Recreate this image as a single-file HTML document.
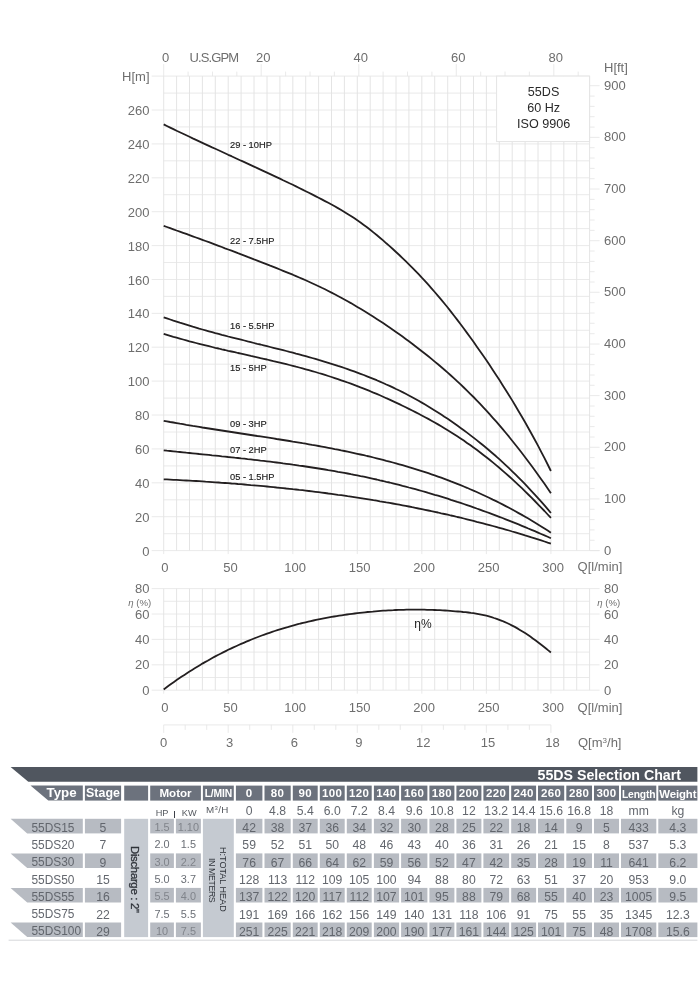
<!DOCTYPE html>
<html lang="en"><head><meta charset="utf-8"><title>55DS Selection Chart</title>
<style>
html,body{margin:0;padding:0;background:#fff}
body{width:700px;height:987px;position:relative;overflow:hidden;font-family:"Liberation Sans",sans-serif}
svg.chart{position:absolute;left:0;top:0}
svg.tbg{position:absolute;left:0;top:760px}
.c{position:absolute;height:15.4px;line-height:15.4px;text-align:center;white-space:nowrap;font-size:12px}
.h{color:#fff;font-weight:bold;font-size:11.5px;letter-spacing:0.35px}
.hb{font-size:11.6px;letter-spacing:0}
.ht{font-size:13.3px;text-align:left;letter-spacing:0}
.hst{font-size:12.4px;letter-spacing:0}
.hw{font-size:11.4px;letter-spacing:-0.1px}
.hs{font-size:10.3px;letter-spacing:-0.15px}
.d{color:#63676e;font-size:12.2px;height:14.6px;line-height:15.2px}
.d.sh{color:#62666d}
.d.m{color:#6a6e75;font-size:10.9px}
.d.m.sh{color:#80848b}
.sm{font-size:9.2px;color:#55595f}
.sm2{font-size:9.8px;color:#55595f;letter-spacing:0.3px}
.sup{font-size:6px;vertical-align:3px}
.bar{position:absolute;left:174.2px;top:811px;width:1px;height:7px;background:#3c4048}
.title{position:absolute;left:520px;width:161px;top:767.5px;height:14.9px;line-height:15.4px;text-align:right;color:#fff;font-weight:bold;font-size:14.2px;white-space:nowrap}
.vert{position:absolute;writing-mode:vertical-rl;color:#3e424a;white-space:nowrap;text-align:center}
.v1{left:122.3px;width:23.9px;top:820.2px;height:118.3px;font-size:11.4px;letter-spacing:-0.32px;line-height:22.5px;color:#2f333a;-webkit-text-stroke:0.3px #2f333a}
.v2{left:216.5px;width:11px;top:820.3px;height:118.3px;font-size:9.05px;line-height:11px;color:#2f333a}
.v3{left:205.9px;width:11px;top:821.3px;height:118.3px;font-size:8.8px;line-height:11px;color:#2f333a;letter-spacing:-0.4px}
</style></head><body>
<svg class="chart" width="700" height="760" viewBox="0 0 700 760">
<g stroke="#e4e4e4" stroke-width="0.8" fill="none">
<line x1="163.7" y1="76.1" x2="163.7" y2="550.6" stroke="#dddddd"/>
<line x1="176.6" y1="76.1" x2="176.6" y2="550.6" stroke="#dddddd"/>
<line x1="189.5" y1="76.1" x2="189.5" y2="550.6" stroke="#dddddd"/>
<line x1="202.4" y1="76.1" x2="202.4" y2="550.6" stroke="#dddddd"/>
<line x1="215.3" y1="76.1" x2="215.3" y2="550.6" stroke="#dddddd"/>
<line x1="228.2" y1="76.1" x2="228.2" y2="550.6" stroke="#dddddd"/>
<line x1="241.1" y1="76.1" x2="241.1" y2="550.6" stroke="#dddddd"/>
<line x1="254.0" y1="76.1" x2="254.0" y2="550.6" stroke="#dddddd"/>
<line x1="267.0" y1="76.1" x2="267.0" y2="550.6" stroke="#dddddd"/>
<line x1="279.9" y1="76.1" x2="279.9" y2="550.6" stroke="#dddddd"/>
<line x1="292.8" y1="76.1" x2="292.8" y2="550.6" stroke="#dddddd"/>
<line x1="305.7" y1="76.1" x2="305.7" y2="550.6" stroke="#dddddd"/>
<line x1="318.6" y1="76.1" x2="318.6" y2="550.6" stroke="#dddddd"/>
<line x1="331.5" y1="76.1" x2="331.5" y2="550.6" stroke="#dddddd"/>
<line x1="344.4" y1="76.1" x2="344.4" y2="550.6" stroke="#dddddd"/>
<line x1="357.3" y1="76.1" x2="357.3" y2="550.6" stroke="#dddddd"/>
<line x1="370.2" y1="76.1" x2="370.2" y2="550.6" stroke="#dddddd"/>
<line x1="383.1" y1="76.1" x2="383.1" y2="550.6" stroke="#dddddd"/>
<line x1="396.0" y1="76.1" x2="396.0" y2="550.6" stroke="#dddddd"/>
<line x1="408.9" y1="76.1" x2="408.9" y2="550.6" stroke="#dddddd"/>
<line x1="421.8" y1="76.1" x2="421.8" y2="550.6" stroke="#dddddd"/>
<line x1="434.7" y1="76.1" x2="434.7" y2="550.6" stroke="#dddddd"/>
<line x1="447.7" y1="76.1" x2="447.7" y2="550.6" stroke="#dddddd"/>
<line x1="460.6" y1="76.1" x2="460.6" y2="550.6" stroke="#dddddd"/>
<line x1="473.5" y1="76.1" x2="473.5" y2="550.6" stroke="#dddddd"/>
<line x1="486.4" y1="76.1" x2="486.4" y2="550.6" stroke="#dddddd"/>
<line x1="499.3" y1="76.1" x2="499.3" y2="550.6" stroke="#dddddd"/>
<line x1="512.2" y1="76.1" x2="512.2" y2="550.6" stroke="#dddddd"/>
<line x1="525.1" y1="76.1" x2="525.1" y2="550.6" stroke="#dddddd"/>
<line x1="538.0" y1="76.1" x2="538.0" y2="550.6" stroke="#dddddd"/>
<line x1="550.9" y1="76.1" x2="550.9" y2="550.6" stroke="#dddddd"/>
<line x1="563.8" y1="76.1" x2="563.8" y2="550.6" stroke="#dddddd"/>
<line x1="576.7" y1="76.1" x2="576.7" y2="550.6" stroke="#dddddd"/>
<line x1="589.6" y1="76.1" x2="589.6" y2="550.6" stroke="#dddddd"/>
<line x1="151.7" y1="550.6" x2="589.6" y2="550.6"/>
<line x1="163.7" y1="533.7" x2="589.6" y2="533.7"/>
<line x1="151.7" y1="516.7" x2="589.6" y2="516.7"/>
<line x1="163.7" y1="499.8" x2="589.6" y2="499.8"/>
<line x1="151.7" y1="482.8" x2="589.6" y2="482.8"/>
<line x1="163.7" y1="465.9" x2="589.6" y2="465.9"/>
<line x1="151.7" y1="448.9" x2="589.6" y2="448.9"/>
<line x1="163.7" y1="432.0" x2="589.6" y2="432.0"/>
<line x1="151.7" y1="415.0" x2="589.6" y2="415.0"/>
<line x1="163.7" y1="398.1" x2="589.6" y2="398.1"/>
<line x1="151.7" y1="381.1" x2="589.6" y2="381.1"/>
<line x1="163.7" y1="364.2" x2="589.6" y2="364.2"/>
<line x1="151.7" y1="347.2" x2="589.6" y2="347.2"/>
<line x1="163.7" y1="330.3" x2="589.6" y2="330.3"/>
<line x1="151.7" y1="313.4" x2="589.6" y2="313.4"/>
<line x1="163.7" y1="296.4" x2="589.6" y2="296.4"/>
<line x1="151.7" y1="279.5" x2="589.6" y2="279.5"/>
<line x1="163.7" y1="262.5" x2="589.6" y2="262.5"/>
<line x1="151.7" y1="245.6" x2="589.6" y2="245.6"/>
<line x1="163.7" y1="228.6" x2="589.6" y2="228.6"/>
<line x1="151.7" y1="211.7" x2="589.6" y2="211.7"/>
<line x1="163.7" y1="194.7" x2="589.6" y2="194.7"/>
<line x1="151.7" y1="177.8" x2="589.6" y2="177.8"/>
<line x1="163.7" y1="160.8" x2="589.6" y2="160.8"/>
<line x1="151.7" y1="143.9" x2="589.6" y2="143.9"/>
<line x1="163.7" y1="126.9" x2="589.6" y2="126.9"/>
<line x1="151.7" y1="110.0" x2="589.6" y2="110.0"/>
<line x1="163.7" y1="93.1" x2="589.6" y2="93.1"/>
<line x1="151.7" y1="76.1" x2="589.6" y2="76.1"/>
<line x1="163.7" y1="64.1" x2="163.7" y2="76.1"/>
<line x1="188.1" y1="71.6" x2="188.1" y2="76.1"/>
<line x1="212.5" y1="71.6" x2="212.5" y2="76.1"/>
<line x1="236.8" y1="71.6" x2="236.8" y2="76.1"/>
<line x1="261.2" y1="64.1" x2="261.2" y2="76.1"/>
<line x1="285.6" y1="71.6" x2="285.6" y2="76.1"/>
<line x1="310.0" y1="71.6" x2="310.0" y2="76.1"/>
<line x1="334.4" y1="71.6" x2="334.4" y2="76.1"/>
<line x1="358.8" y1="64.1" x2="358.8" y2="76.1"/>
<line x1="383.1" y1="71.6" x2="383.1" y2="76.1"/>
<line x1="407.5" y1="71.6" x2="407.5" y2="76.1"/>
<line x1="431.9" y1="71.6" x2="431.9" y2="76.1"/>
<line x1="456.3" y1="64.1" x2="456.3" y2="76.1"/>
<line x1="480.7" y1="71.6" x2="480.7" y2="76.1"/>
<line x1="505.0" y1="71.6" x2="505.0" y2="76.1"/>
<line x1="529.4" y1="71.6" x2="529.4" y2="76.1"/>
<line x1="553.8" y1="64.1" x2="553.8" y2="76.1"/>
<line x1="578.2" y1="71.6" x2="578.2" y2="76.1"/>
<line x1="589.6" y1="550.6" x2="599.6" y2="550.6"/>
<line x1="589.6" y1="540.3" x2="594.6" y2="540.3"/>
<line x1="589.6" y1="529.9" x2="594.6" y2="529.9"/>
<line x1="589.6" y1="519.6" x2="594.6" y2="519.6"/>
<line x1="589.6" y1="509.3" x2="594.6" y2="509.3"/>
<line x1="589.6" y1="498.9" x2="599.6" y2="498.9"/>
<line x1="589.6" y1="488.6" x2="594.6" y2="488.6"/>
<line x1="589.6" y1="478.3" x2="594.6" y2="478.3"/>
<line x1="589.6" y1="468.0" x2="594.6" y2="468.0"/>
<line x1="589.6" y1="457.6" x2="594.6" y2="457.6"/>
<line x1="589.6" y1="447.3" x2="599.6" y2="447.3"/>
<line x1="589.6" y1="437.0" x2="594.6" y2="437.0"/>
<line x1="589.6" y1="426.6" x2="594.6" y2="426.6"/>
<line x1="589.6" y1="416.3" x2="594.6" y2="416.3"/>
<line x1="589.6" y1="406.0" x2="594.6" y2="406.0"/>
<line x1="589.6" y1="395.6" x2="599.6" y2="395.6"/>
<line x1="589.6" y1="385.3" x2="594.6" y2="385.3"/>
<line x1="589.6" y1="375.0" x2="594.6" y2="375.0"/>
<line x1="589.6" y1="364.7" x2="594.6" y2="364.7"/>
<line x1="589.6" y1="354.3" x2="594.6" y2="354.3"/>
<line x1="589.6" y1="344.0" x2="599.6" y2="344.0"/>
<line x1="589.6" y1="333.7" x2="594.6" y2="333.7"/>
<line x1="589.6" y1="323.3" x2="594.6" y2="323.3"/>
<line x1="589.6" y1="313.0" x2="594.6" y2="313.0"/>
<line x1="589.6" y1="302.7" x2="594.6" y2="302.7"/>
<line x1="589.6" y1="292.3" x2="599.6" y2="292.3"/>
<line x1="589.6" y1="282.0" x2="594.6" y2="282.0"/>
<line x1="589.6" y1="271.7" x2="594.6" y2="271.7"/>
<line x1="589.6" y1="261.4" x2="594.6" y2="261.4"/>
<line x1="589.6" y1="251.0" x2="594.6" y2="251.0"/>
<line x1="589.6" y1="240.7" x2="599.6" y2="240.7"/>
<line x1="589.6" y1="230.4" x2="594.6" y2="230.4"/>
<line x1="589.6" y1="220.0" x2="594.6" y2="220.0"/>
<line x1="589.6" y1="209.7" x2="594.6" y2="209.7"/>
<line x1="589.6" y1="199.4" x2="594.6" y2="199.4"/>
<line x1="589.6" y1="189.0" x2="599.6" y2="189.0"/>
<line x1="589.6" y1="178.7" x2="594.6" y2="178.7"/>
<line x1="589.6" y1="168.4" x2="594.6" y2="168.4"/>
<line x1="589.6" y1="158.0" x2="594.6" y2="158.0"/>
<line x1="589.6" y1="147.7" x2="594.6" y2="147.7"/>
<line x1="589.6" y1="137.4" x2="599.6" y2="137.4"/>
<line x1="589.6" y1="127.1" x2="594.6" y2="127.1"/>
<line x1="589.6" y1="116.7" x2="594.6" y2="116.7"/>
<line x1="589.6" y1="106.4" x2="594.6" y2="106.4"/>
<line x1="589.6" y1="96.1" x2="594.6" y2="96.1"/>
<line x1="589.6" y1="85.7" x2="599.6" y2="85.7"/>
<line x1="163.7" y1="550.6" x2="163.7" y2="554.1"/>
<line x1="228.2" y1="550.6" x2="228.2" y2="554.1"/>
<line x1="292.8" y1="550.6" x2="292.8" y2="554.1"/>
<line x1="357.3" y1="550.6" x2="357.3" y2="554.1"/>
<line x1="421.8" y1="550.6" x2="421.8" y2="554.1"/>
<line x1="486.4" y1="550.6" x2="486.4" y2="554.1"/>
<line x1="550.9" y1="550.6" x2="550.9" y2="554.1"/>
<line x1="589.6" y1="550.6" x2="599.6" y2="550.6"/>
</g>
<rect x="496.6" y="76.1" width="93.0" height="65.5" fill="#fff" stroke="#e4e4e4" stroke-width="1"/>
<g font-family="'Liberation Sans', sans-serif" font-size="12.6" fill="#2a2a2a" text-anchor="middle">
<text x="543.6" y="96">55DS</text><text x="543.6" y="112.2">60 Hz</text><text x="543.6" y="128.4">ISO 9906</text></g>
<g stroke="#e4e4e4" stroke-width="0.8" fill="none">
<line x1="163.7" y1="588.6" x2="163.7" y2="690.2" stroke="#dddddd"/>
<line x1="176.6" y1="588.6" x2="176.6" y2="690.2" stroke="#dddddd"/>
<line x1="189.5" y1="588.6" x2="189.5" y2="690.2" stroke="#dddddd"/>
<line x1="202.4" y1="588.6" x2="202.4" y2="690.2" stroke="#dddddd"/>
<line x1="215.3" y1="588.6" x2="215.3" y2="690.2" stroke="#dddddd"/>
<line x1="228.2" y1="588.6" x2="228.2" y2="690.2" stroke="#dddddd"/>
<line x1="241.1" y1="588.6" x2="241.1" y2="690.2" stroke="#dddddd"/>
<line x1="254.0" y1="588.6" x2="254.0" y2="690.2" stroke="#dddddd"/>
<line x1="267.0" y1="588.6" x2="267.0" y2="690.2" stroke="#dddddd"/>
<line x1="279.9" y1="588.6" x2="279.9" y2="690.2" stroke="#dddddd"/>
<line x1="292.8" y1="588.6" x2="292.8" y2="690.2" stroke="#dddddd"/>
<line x1="305.7" y1="588.6" x2="305.7" y2="690.2" stroke="#dddddd"/>
<line x1="318.6" y1="588.6" x2="318.6" y2="690.2" stroke="#dddddd"/>
<line x1="331.5" y1="588.6" x2="331.5" y2="690.2" stroke="#dddddd"/>
<line x1="344.4" y1="588.6" x2="344.4" y2="690.2" stroke="#dddddd"/>
<line x1="357.3" y1="588.6" x2="357.3" y2="690.2" stroke="#dddddd"/>
<line x1="370.2" y1="588.6" x2="370.2" y2="690.2" stroke="#dddddd"/>
<line x1="383.1" y1="588.6" x2="383.1" y2="690.2" stroke="#dddddd"/>
<line x1="396.0" y1="588.6" x2="396.0" y2="690.2" stroke="#dddddd"/>
<line x1="408.9" y1="588.6" x2="408.9" y2="690.2" stroke="#dddddd"/>
<line x1="421.8" y1="588.6" x2="421.8" y2="690.2" stroke="#dddddd"/>
<line x1="434.7" y1="588.6" x2="434.7" y2="690.2" stroke="#dddddd"/>
<line x1="447.7" y1="588.6" x2="447.7" y2="690.2" stroke="#dddddd"/>
<line x1="460.6" y1="588.6" x2="460.6" y2="690.2" stroke="#dddddd"/>
<line x1="473.5" y1="588.6" x2="473.5" y2="690.2" stroke="#dddddd"/>
<line x1="486.4" y1="588.6" x2="486.4" y2="690.2" stroke="#dddddd"/>
<line x1="499.3" y1="588.6" x2="499.3" y2="690.2" stroke="#dddddd"/>
<line x1="512.2" y1="588.6" x2="512.2" y2="690.2" stroke="#dddddd"/>
<line x1="525.1" y1="588.6" x2="525.1" y2="690.2" stroke="#dddddd"/>
<line x1="538.0" y1="588.6" x2="538.0" y2="690.2" stroke="#dddddd"/>
<line x1="550.9" y1="588.6" x2="550.9" y2="690.2" stroke="#dddddd"/>
<line x1="563.8" y1="588.6" x2="563.8" y2="690.2" stroke="#dddddd"/>
<line x1="576.7" y1="588.6" x2="576.7" y2="690.2" stroke="#dddddd"/>
<line x1="589.6" y1="588.6" x2="589.6" y2="690.2" stroke="#dddddd"/>
<line x1="151.7" y1="690.2" x2="599.6" y2="690.2"/>
<line x1="163.7" y1="677.5" x2="589.6" y2="677.5"/>
<line x1="151.7" y1="664.8" x2="599.6" y2="664.8"/>
<line x1="163.7" y1="652.1" x2="589.6" y2="652.1"/>
<line x1="151.7" y1="639.4" x2="599.6" y2="639.4"/>
<line x1="163.7" y1="626.7" x2="589.6" y2="626.7"/>
<line x1="151.7" y1="614.0" x2="599.6" y2="614.0"/>
<line x1="163.7" y1="601.3" x2="589.6" y2="601.3"/>
<line x1="151.7" y1="588.6" x2="599.6" y2="588.6"/>
<line x1="163.7" y1="690.2" x2="163.7" y2="693.7"/>
<line x1="228.2" y1="690.2" x2="228.2" y2="693.7"/>
<line x1="292.8" y1="690.2" x2="292.8" y2="693.7"/>
<line x1="357.3" y1="690.2" x2="357.3" y2="693.7"/>
<line x1="421.8" y1="690.2" x2="421.8" y2="693.7"/>
<line x1="486.4" y1="690.2" x2="486.4" y2="693.7"/>
<line x1="550.9" y1="690.2" x2="550.9" y2="693.7"/>
<line x1="163.7" y1="724.9" x2="550.9" y2="724.9"/>
<line x1="163.7" y1="724.9" x2="163.7" y2="732.9"/>
<line x1="185.2" y1="724.9" x2="185.2" y2="729.9"/>
<line x1="206.7" y1="724.9" x2="206.7" y2="729.9"/>
<line x1="228.2" y1="724.9" x2="228.2" y2="732.9"/>
<line x1="249.7" y1="724.9" x2="249.7" y2="729.9"/>
<line x1="271.3" y1="724.9" x2="271.3" y2="729.9"/>
<line x1="292.8" y1="724.9" x2="292.8" y2="732.9"/>
<line x1="314.3" y1="724.9" x2="314.3" y2="729.9"/>
<line x1="335.8" y1="724.9" x2="335.8" y2="729.9"/>
<line x1="357.3" y1="724.9" x2="357.3" y2="732.9"/>
<line x1="378.8" y1="724.9" x2="378.8" y2="729.9"/>
<line x1="400.3" y1="724.9" x2="400.3" y2="729.9"/>
<line x1="421.8" y1="724.9" x2="421.8" y2="732.9"/>
<line x1="443.4" y1="724.9" x2="443.4" y2="729.9"/>
<line x1="464.9" y1="724.9" x2="464.9" y2="729.9"/>
<line x1="486.4" y1="724.9" x2="486.4" y2="732.9"/>
<line x1="507.9" y1="724.9" x2="507.9" y2="729.9"/>
<line x1="529.4" y1="724.9" x2="529.4" y2="729.9"/>
<line x1="550.9" y1="724.9" x2="550.9" y2="732.9"/>
</g>
<g stroke="#231f20" stroke-width="1.8" fill="none" stroke-linecap="butt" stroke-linejoin="round">
<path d="M163.7,479.3 L166.9,479.4 L170.2,479.6 L173.4,479.8 L176.6,479.9 L179.8,480.1 L183.1,480.3 L186.3,480.5 L189.5,480.7 L192.7,480.9 L196.0,481.0 L199.2,481.2 L202.4,481.4 L205.6,481.7 L208.9,481.9 L212.1,482.1 L215.3,482.3 L218.6,482.5 L221.8,482.8 L225.0,483.0 L228.2,483.2 L231.5,483.5 L234.7,483.7 L237.9,484.0 L241.1,484.2 L244.4,484.5 L247.6,484.8 L250.8,485.1 L254.0,485.3 L257.3,485.6 L260.5,485.9 L263.7,486.2 L267.0,486.5 L270.2,486.8 L273.4,487.1 L276.6,487.5 L279.9,487.8 L283.1,488.1 L286.3,488.5 L289.5,488.8 L292.8,489.2 L296.0,489.5 L299.2,489.9 L302.5,490.2 L305.7,490.6 L308.9,491.0 L312.1,491.4 L315.4,491.8 L318.6,492.2 L321.8,492.6 L325.0,493.0 L328.3,493.5 L331.5,493.9 L334.7,494.3 L337.9,494.8 L341.2,495.2 L344.4,495.7 L347.6,496.2 L350.9,496.6 L354.1,497.1 L357.3,497.6 L360.5,498.1 L363.8,498.6 L367.0,499.1 L370.2,499.6 L373.4,500.2 L376.7,500.7 L379.9,501.3 L383.1,501.8 L386.3,502.4 L389.6,502.9 L392.8,503.5 L396.0,504.1 L399.3,504.7 L402.5,505.3 L405.7,505.9 L408.9,506.5 L412.2,507.2 L415.4,507.8 L418.6,508.5 L421.8,509.1 L425.1,509.8 L428.3,510.5 L431.5,511.2 L434.7,511.8 L438.0,512.5 L441.2,513.3 L444.4,514.0 L447.7,514.7 L450.9,515.5 L454.1,516.2 L457.3,517.0 L460.6,517.7 L463.8,518.5 L467.0,519.3 L470.2,520.1 L473.5,520.9 L476.7,521.8 L479.9,522.6 L483.1,523.4 L486.4,524.3 L489.6,525.1 L492.8,526.0 L496.1,526.9 L499.3,527.8 L502.5,528.7 L505.7,529.6 L509.0,530.5 L512.2,531.5 L515.4,532.4 L518.6,533.4 L521.9,534.4 L525.1,535.4 L528.3,536.3 L531.5,537.4 L534.8,538.4 L538.0,539.4 L541.2,540.4 L544.5,541.5 L547.7,542.6 L550.9,543.6"/>
<path d="M163.7,450.3 L166.9,450.7 L170.2,451.0 L173.4,451.3 L176.6,451.7 L179.8,452.0 L183.1,452.3 L186.3,452.7 L189.5,453.0 L192.7,453.3 L196.0,453.6 L199.2,454.0 L202.4,454.3 L205.6,454.6 L208.9,454.9 L212.1,455.3 L215.3,455.6 L218.6,455.9 L221.8,456.3 L225.0,456.6 L228.2,457.0 L231.5,457.3 L234.7,457.7 L237.9,458.0 L241.1,458.4 L244.4,458.7 L247.6,459.1 L250.8,459.4 L254.0,459.8 L257.3,460.2 L260.5,460.6 L263.7,460.9 L267.0,461.3 L270.2,461.7 L273.4,462.1 L276.6,462.5 L279.9,462.9 L283.1,463.4 L286.3,463.8 L289.5,464.2 L292.8,464.7 L296.0,465.1 L299.2,465.6 L302.5,466.0 L305.7,466.5 L308.9,467.0 L312.1,467.5 L315.4,468.0 L318.6,468.5 L321.8,469.0 L325.0,469.5 L328.3,470.1 L331.5,470.6 L334.7,471.2 L337.9,471.8 L341.2,472.3 L344.4,472.9 L347.6,473.5 L350.9,474.2 L354.1,474.8 L357.3,475.4 L360.5,476.1 L363.8,476.7 L367.0,477.4 L370.2,478.1 L373.4,478.8 L376.7,479.5 L379.9,480.3 L383.1,481.0 L386.3,481.8 L389.6,482.5 L392.8,483.3 L396.0,484.1 L399.3,484.9 L402.5,485.8 L405.7,486.6 L408.9,487.5 L412.2,488.3 L415.4,489.2 L418.6,490.1 L421.8,491.0 L425.1,491.9 L428.3,492.9 L431.5,493.8 L434.7,494.8 L438.0,495.7 L441.2,496.7 L444.4,497.7 L447.7,498.7 L450.9,499.8 L454.1,500.8 L457.3,501.9 L460.6,502.9 L463.8,504.0 L467.0,505.1 L470.2,506.2 L473.5,507.3 L476.7,508.5 L479.9,509.6 L483.1,510.8 L486.4,512.0 L489.6,513.1 L492.8,514.3 L496.1,515.6 L499.3,516.8 L502.5,518.0 L505.7,519.3 L509.0,520.6 L512.2,521.8 L515.4,523.1 L518.6,524.4 L521.9,525.8 L525.1,527.1 L528.3,528.5 L531.5,529.8 L534.8,531.2 L538.0,532.6 L541.2,534.0 L544.5,535.4 L547.7,536.8 L550.9,538.3"/>
<path d="M163.7,420.8 L166.9,421.4 L170.2,422.0 L173.4,422.5 L176.6,423.1 L179.8,423.7 L183.1,424.2 L186.3,424.8 L189.5,425.3 L192.7,425.9 L196.0,426.4 L199.2,426.9 L202.4,427.5 L205.6,428.0 L208.9,428.5 L212.1,429.0 L215.3,429.5 L218.6,430.0 L221.8,430.5 L225.0,431.0 L228.2,431.5 L231.5,432.0 L234.7,432.5 L237.9,433.0 L241.1,433.5 L244.4,434.0 L247.6,434.5 L250.8,435.0 L254.0,435.5 L257.3,436.0 L260.5,436.4 L263.7,436.9 L267.0,437.4 L270.2,437.9 L273.4,438.4 L276.6,439.0 L279.9,439.5 L283.1,440.0 L286.3,440.5 L289.5,441.0 L292.8,441.6 L296.0,442.1 L299.2,442.6 L302.5,443.2 L305.7,443.7 L308.9,444.3 L312.1,444.9 L315.4,445.4 L318.6,446.0 L321.8,446.6 L325.0,447.2 L328.3,447.8 L331.5,448.4 L334.7,449.1 L337.9,449.7 L341.2,450.4 L344.4,451.0 L347.6,451.7 L350.9,452.4 L354.1,453.1 L357.3,453.8 L360.5,454.5 L363.8,455.2 L367.0,456.0 L370.2,456.7 L373.4,457.5 L376.7,458.3 L379.9,459.1 L383.1,459.9 L386.3,460.8 L389.6,461.6 L392.8,462.5 L396.0,463.4 L399.3,464.3 L402.5,465.2 L405.7,466.1 L408.9,467.1 L412.2,468.1 L415.4,469.1 L418.6,470.1 L421.8,471.1 L425.1,472.2 L428.3,473.2 L431.5,474.3 L434.7,475.4 L438.0,476.6 L441.2,477.7 L444.4,478.9 L447.7,480.1 L450.9,481.4 L454.1,482.6 L457.3,483.9 L460.6,485.2 L463.8,486.5 L467.0,487.8 L470.2,489.2 L473.5,490.6 L476.7,492.0 L479.9,493.5 L483.1,495.0 L486.4,496.5 L489.6,498.0 L492.8,499.6 L496.1,501.1 L499.3,502.8 L502.5,504.4 L505.7,506.1 L509.0,507.8 L512.2,509.5 L515.4,511.3 L518.6,513.1 L521.9,514.9 L525.1,516.7 L528.3,518.6 L531.5,520.5 L534.8,522.5 L538.0,524.5 L541.2,526.5 L544.5,528.6 L547.7,530.6 L550.9,532.8"/>
<path d="M163.7,333.8 L166.9,334.8 L170.2,335.8 L173.4,336.8 L176.6,337.7 L179.8,338.6 L183.1,339.5 L186.3,340.4 L189.5,341.3 L192.7,342.1 L196.0,343.0 L199.2,343.8 L202.4,344.6 L205.6,345.4 L208.9,346.2 L212.1,347.0 L215.3,347.8 L218.6,348.5 L221.8,349.3 L225.0,350.0 L228.2,350.8 L231.5,351.5 L234.7,352.2 L237.9,353.0 L241.1,353.7 L244.4,354.4 L247.6,355.1 L250.8,355.9 L254.0,356.6 L257.3,357.3 L260.5,358.1 L263.7,358.8 L267.0,359.5 L270.2,360.3 L273.4,361.1 L276.6,361.8 L279.9,362.6 L283.1,363.4 L286.3,364.2 L289.5,365.0 L292.8,365.8 L296.0,366.7 L299.2,367.5 L302.5,368.4 L305.7,369.3 L308.9,370.2 L312.1,371.1 L315.4,372.0 L318.6,373.0 L321.8,373.9 L325.0,374.9 L328.3,376.0 L331.5,377.0 L334.7,378.1 L337.9,379.2 L341.2,380.3 L344.4,381.4 L347.6,382.5 L350.9,383.7 L354.1,384.9 L357.3,386.1 L360.5,387.4 L363.8,388.6 L367.0,389.9 L370.2,391.2 L373.4,392.6 L376.7,393.9 L379.9,395.3 L383.1,396.7 L386.3,398.2 L389.6,399.6 L392.8,401.1 L396.0,402.6 L399.3,404.1 L402.5,405.7 L405.7,407.3 L408.9,408.9 L412.2,410.5 L415.4,412.1 L418.6,413.8 L421.8,415.5 L425.1,417.2 L428.3,418.9 L431.5,420.7 L434.7,422.5 L438.0,424.4 L441.2,426.3 L444.4,428.2 L447.7,430.2 L450.9,432.2 L454.1,434.2 L457.3,436.3 L460.6,438.5 L463.8,440.6 L467.0,442.9 L470.2,445.1 L473.5,447.5 L476.7,449.8 L479.9,452.2 L483.1,454.7 L486.4,457.2 L489.6,459.8 L492.8,462.4 L496.1,465.1 L499.3,467.8 L502.5,470.6 L505.7,473.4 L509.0,476.3 L512.2,479.2 L515.4,482.2 L518.6,485.2 L521.9,488.2 L525.1,491.3 L528.3,494.5 L531.5,497.7 L534.8,501.0 L538.0,504.3 L541.2,507.6 L544.5,511.0 L547.7,514.5 L550.9,517.9"/>
<path d="M163.7,317.3 L166.9,318.4 L170.2,319.5 L173.4,320.6 L176.6,321.6 L179.8,322.7 L183.1,323.7 L186.3,324.7 L189.5,325.7 L192.7,326.7 L196.0,327.6 L199.2,328.6 L202.4,329.5 L205.6,330.4 L208.9,331.3 L212.1,332.2 L215.3,333.1 L218.6,333.9 L221.8,334.8 L225.0,335.6 L228.2,336.5 L231.5,337.3 L234.7,338.1 L237.9,338.9 L241.1,339.7 L244.4,340.5 L247.6,341.4 L250.8,342.2 L254.0,343.0 L257.3,343.8 L260.5,344.5 L263.7,345.3 L267.0,346.2 L270.2,347.0 L273.4,347.8 L276.6,348.6 L279.9,349.4 L283.1,350.2 L286.3,351.0 L289.5,351.9 L292.8,352.7 L296.0,353.6 L299.2,354.4 L302.5,355.3 L305.7,356.2 L308.9,357.1 L312.1,358.0 L315.4,358.9 L318.6,359.9 L321.8,360.8 L325.0,361.8 L328.3,362.8 L331.5,363.8 L334.7,364.8 L337.9,365.9 L341.2,366.9 L344.4,368.0 L347.6,369.1 L350.9,370.3 L354.1,371.4 L357.3,372.6 L360.5,373.8 L363.8,375.0 L367.0,376.3 L370.2,377.6 L373.4,378.9 L376.7,380.2 L379.9,381.6 L383.1,383.0 L386.3,384.5 L389.6,385.9 L392.8,387.4 L396.0,389.0 L399.3,390.5 L402.5,392.1 L405.7,393.8 L408.9,395.5 L412.2,397.2 L415.4,399.0 L418.6,400.8 L421.8,402.6 L425.1,404.5 L428.3,406.4 L431.5,408.4 L434.7,410.4 L438.0,412.4 L441.2,414.5 L444.4,416.7 L447.7,418.8 L450.9,421.0 L454.1,423.3 L457.3,425.6 L460.6,427.9 L463.8,430.2 L467.0,432.6 L470.2,435.1 L473.5,437.6 L476.7,440.1 L479.9,442.7 L483.1,445.3 L486.4,448.0 L489.6,450.7 L492.8,453.5 L496.1,456.3 L499.3,459.2 L502.5,462.1 L505.7,465.1 L509.0,468.2 L512.2,471.3 L515.4,474.4 L518.6,477.6 L521.9,480.9 L525.1,484.2 L528.3,487.6 L531.5,491.1 L534.8,494.6 L538.0,498.1 L541.2,501.7 L544.5,505.4 L547.7,509.2 L550.9,513.0"/>
<path d="M163.7,225.9 L166.9,227.0 L170.2,228.2 L173.4,229.3 L176.6,230.5 L179.8,231.6 L183.1,232.8 L186.3,233.9 L189.5,235.1 L192.7,236.3 L196.0,237.5 L199.2,238.6 L202.4,239.8 L205.6,241.0 L208.9,242.2 L212.1,243.4 L215.3,244.6 L218.6,245.8 L221.8,247.0 L225.0,248.3 L228.2,249.5 L231.5,250.7 L234.7,251.9 L237.9,253.2 L241.1,254.4 L244.4,255.6 L247.6,256.9 L250.8,258.1 L254.0,259.4 L257.3,260.6 L260.5,261.9 L263.7,263.1 L267.0,264.4 L270.2,265.7 L273.4,266.9 L276.6,268.2 L279.9,269.5 L283.1,270.8 L286.3,272.1 L289.5,273.4 L292.8,274.7 L296.0,276.1 L299.2,277.5 L302.5,278.9 L305.7,280.3 L308.9,281.7 L312.1,283.2 L315.4,284.7 L318.6,286.2 L321.8,287.8 L325.0,289.3 L328.3,291.0 L331.5,292.6 L334.7,294.3 L337.9,296.0 L341.2,297.7 L344.4,299.5 L347.6,301.3 L350.9,303.1 L354.1,305.0 L357.3,306.9 L360.5,308.8 L363.8,310.8 L367.0,312.7 L370.2,314.8 L373.4,316.8 L376.7,318.9 L379.9,321.0 L383.1,323.1 L386.3,325.3 L389.6,327.5 L392.8,329.7 L396.0,332.0 L399.3,334.3 L402.5,336.6 L405.7,338.9 L408.9,341.3 L412.2,343.7 L415.4,346.2 L418.6,348.7 L421.8,351.2 L425.1,353.7 L428.3,356.3 L431.5,358.9 L434.7,361.6 L438.0,364.3 L441.2,367.0 L444.4,369.8 L447.7,372.6 L450.9,375.5 L454.1,378.4 L457.3,381.4 L460.6,384.4 L463.8,387.5 L467.0,390.6 L470.2,393.8 L473.5,397.0 L476.7,400.3 L479.9,403.7 L483.1,407.1 L486.4,410.6 L489.6,414.2 L492.8,417.8 L496.1,421.4 L499.3,425.2 L502.5,428.9 L505.7,432.8 L509.0,436.7 L512.2,440.7 L515.4,444.7 L518.6,448.8 L521.9,453.0 L525.1,457.2 L528.3,461.5 L531.5,465.8 L534.8,470.2 L538.0,474.7 L541.2,479.2 L544.5,483.8 L547.7,488.4 L550.9,493.2"/>
<path d="M163.7,124.4 L166.9,126.0 L170.2,127.6 L173.4,129.1 L176.6,130.7 L179.8,132.2 L183.1,133.8 L186.3,135.3 L189.5,136.8 L192.7,138.4 L196.0,139.9 L199.2,141.4 L202.4,142.9 L205.6,144.4 L208.9,145.9 L212.1,147.4 L215.3,148.8 L218.6,150.3 L221.8,151.8 L225.0,153.3 L228.2,154.8 L231.5,156.2 L234.7,157.7 L237.9,159.2 L241.1,160.7 L244.4,162.1 L247.6,163.6 L250.8,165.1 L254.0,166.6 L257.3,168.1 L260.5,169.6 L263.7,171.1 L267.0,172.6 L270.2,174.1 L273.4,175.6 L276.6,177.1 L279.9,178.6 L283.1,180.2 L286.3,181.7 L289.5,183.3 L292.8,184.8 L296.0,186.4 L299.2,188.0 L302.5,189.6 L305.7,191.2 L308.9,192.8 L312.1,194.4 L315.4,196.1 L318.6,197.7 L321.8,199.4 L325.0,201.1 L328.3,202.8 L331.5,204.5 L334.7,206.3 L337.9,208.1 L341.2,210.0 L344.4,211.9 L347.6,213.9 L350.9,215.9 L354.1,218.1 L357.3,220.3 L360.5,222.5 L363.8,224.9 L367.0,227.3 L370.2,229.8 L373.4,232.4 L376.7,235.0 L379.9,237.7 L383.1,240.4 L386.3,243.3 L389.6,246.1 L392.8,249.0 L396.0,252.0 L399.3,255.0 L402.5,258.1 L405.7,261.2 L408.9,264.4 L412.2,267.6 L415.4,270.9 L418.6,274.2 L421.8,277.7 L425.1,281.1 L428.3,284.7 L431.5,288.3 L434.7,292.0 L438.0,295.8 L441.2,299.6 L444.4,303.5 L447.7,307.5 L450.9,311.6 L454.1,315.7 L457.3,319.9 L460.6,324.2 L463.8,328.5 L467.0,332.9 L470.2,337.3 L473.5,341.8 L476.7,346.4 L479.9,351.0 L483.1,355.6 L486.4,360.3 L489.6,365.1 L492.8,370.0 L496.1,374.9 L499.3,379.8 L502.5,384.9 L505.7,390.0 L509.0,395.2 L512.2,400.4 L515.4,405.8 L518.6,411.2 L521.9,416.7 L525.1,422.3 L528.3,428.0 L531.5,433.8 L534.8,439.7 L538.0,445.7 L541.2,451.9 L544.5,458.1 L547.7,464.5 L550.9,471.0"/>
<path d="M163.7,689.4 L166.3,687.5 L168.9,685.6 L171.4,683.7 L174.0,681.9 L176.6,680.1 L179.2,678.3 L181.8,676.6 L184.4,674.9 L186.9,673.2 L189.5,671.5 L192.1,669.9 L194.7,668.3 L197.3,666.7 L199.8,665.2 L202.4,663.6 L205.0,662.1 L207.6,660.7 L210.2,659.2 L212.7,657.8 L215.3,656.4 L217.9,655.0 L220.5,653.7 L223.1,652.4 L225.7,651.1 L228.2,649.8 L230.8,648.6 L233.4,647.4 L236.0,646.2 L238.6,645.0 L241.1,643.9 L243.7,642.8 L246.3,641.7 L248.9,640.6 L251.5,639.5 L254.0,638.5 L256.6,637.5 L259.2,636.5 L261.8,635.5 L264.4,634.6 L267.0,633.7 L269.5,632.8 L272.1,631.9 L274.7,631.0 L277.3,630.2 L279.9,629.4 L282.4,628.6 L285.0,627.8 L287.6,627.1 L290.2,626.3 L292.8,625.6 L295.4,624.9 L297.9,624.2 L300.5,623.5 L303.1,622.9 L305.7,622.3 L308.3,621.7 L310.8,621.1 L313.4,620.5 L316.0,619.9 L318.6,619.4 L321.2,618.9 L323.7,618.4 L326.3,617.9 L328.9,617.4 L331.5,616.9 L334.1,616.5 L336.7,616.1 L339.2,615.7 L341.8,615.3 L344.4,614.9 L347.0,614.5 L349.6,614.1 L352.1,613.8 L354.7,613.5 L357.3,613.2 L359.9,612.9 L362.5,612.6 L365.0,612.3 L367.6,612.0 L370.2,611.8 L372.8,611.6 L375.4,611.3 L378.0,611.1 L380.5,610.9 L383.1,610.7 L385.7,610.6 L388.3,610.4 L390.9,610.3 L393.4,610.2 L396.0,610.0 L398.6,609.9 L401.2,609.9 L403.8,609.8 L406.4,609.7 L408.9,609.7 L411.5,609.7 L414.1,609.6 L416.7,609.6 L419.3,609.6 L421.8,609.7 L424.4,609.7 L427.0,609.8 L429.6,609.8 L432.2,609.9 L434.7,610.0 L437.3,610.1 L439.9,610.2 L442.5,610.4 L445.1,610.5 L447.7,610.7 L450.2,610.9 L452.8,611.1 L455.4,611.3 L458.0,611.5 L460.6,611.7 L463.1,612.0 L465.7,612.2 L468.3,612.5 L470.9,612.9 L473.5,613.2 L476.0,613.6 L478.6,614.1 L481.2,614.6 L483.8,615.1 L486.4,615.7 L489.0,616.4 L491.5,617.1 L494.1,618.0 L496.7,618.8 L499.3,619.8 L501.9,620.8 L504.4,621.9 L507.0,623.0 L509.6,624.3 L512.2,625.6 L514.8,626.9 L517.4,628.4 L519.9,629.9 L522.5,631.5 L525.1,633.1 L527.7,634.8 L530.3,636.6 L532.8,638.4 L535.4,640.3 L538.0,642.2 L540.6,644.2 L543.2,646.2 L545.7,648.2 L548.3,650.4 L550.9,652.5"/>
</g>
<g font-family="'Liberation Sans', sans-serif" font-size="13" fill="#6e6e6e">
<text x="149.5" y="555.6" text-anchor="end">0</text>
<text x="149.5" y="521.7" text-anchor="end">20</text>
<text x="149.5" y="487.8" text-anchor="end">40</text>
<text x="149.5" y="453.9" text-anchor="end">60</text>
<text x="149.5" y="420.0" text-anchor="end">80</text>
<text x="149.5" y="386.1" text-anchor="end">100</text>
<text x="149.5" y="352.2" text-anchor="end">120</text>
<text x="149.5" y="318.4" text-anchor="end">140</text>
<text x="149.5" y="284.5" text-anchor="end">160</text>
<text x="149.5" y="250.6" text-anchor="end">180</text>
<text x="149.5" y="216.7" text-anchor="end">200</text>
<text x="149.5" y="182.8" text-anchor="end">220</text>
<text x="149.5" y="148.9" text-anchor="end">240</text>
<text x="149.5" y="115.0" text-anchor="end">260</text>
<text x="149.5" y="80.7" text-anchor="end">H[m]</text>
<text x="604" y="554.5">0</text>
<text x="604" y="502.8">100</text>
<text x="604" y="451.2">200</text>
<text x="604" y="399.5">300</text>
<text x="604" y="347.9">400</text>
<text x="604" y="296.2">500</text>
<text x="604" y="244.6">600</text>
<text x="604" y="192.9">700</text>
<text x="604" y="141.3">800</text>
<text x="604" y="89.6">900</text>
<text x="604" y="72">H[ft]</text>
<text x="165.7" y="62" text-anchor="middle">0</text>
<text x="263.2" y="62" text-anchor="middle">20</text>
<text x="360.8" y="62" text-anchor="middle">40</text>
<text x="458.3" y="62" text-anchor="middle">60</text>
<text x="555.8" y="62" text-anchor="middle">80</text>
<text x="189.5" y="62" letter-spacing="-0.9">U.S.GPM</text>
<text x="164.9" y="571.5" text-anchor="middle">0</text>
<text x="164.9" y="712.3" text-anchor="middle">0</text>
<text x="230.5" y="571.5" text-anchor="middle">50</text>
<text x="230.5" y="712.3" text-anchor="middle">50</text>
<text x="295.1" y="571.5" text-anchor="middle">100</text>
<text x="295.1" y="712.3" text-anchor="middle">100</text>
<text x="359.6" y="571.5" text-anchor="middle">150</text>
<text x="359.6" y="712.3" text-anchor="middle">150</text>
<text x="424.1" y="571.5" text-anchor="middle">200</text>
<text x="424.1" y="712.3" text-anchor="middle">200</text>
<text x="488.7" y="571.5" text-anchor="middle">250</text>
<text x="488.7" y="712.3" text-anchor="middle">250</text>
<text x="553.2" y="571.5" text-anchor="middle">300</text>
<text x="553.2" y="712.3" text-anchor="middle">300</text>
<text x="577.6" y="571">Q[l/min]</text>
<text x="577.6" y="711.8">Q[l/min]</text>
<text x="149.5" y="694.8" text-anchor="end">0</text>
<text x="604" y="694.8">0</text>
<text x="149.5" y="669.4" text-anchor="end">20</text>
<text x="604" y="669.4">20</text>
<text x="149.5" y="644.0" text-anchor="end">40</text>
<text x="604" y="644.0">40</text>
<text x="149.5" y="618.6" text-anchor="end">60</text>
<text x="604" y="618.6">60</text>
<text x="149.5" y="593.2" text-anchor="end">80</text>
<text x="604" y="593.2">80</text>
<text x="163.7" y="747" text-anchor="middle">0</text>
<text x="229.7" y="747" text-anchor="middle">3</text>
<text x="294.3" y="747" text-anchor="middle">6</text>
<text x="358.8" y="747" text-anchor="middle">9</text>
<text x="423.3" y="747" text-anchor="middle">12</text>
<text x="487.9" y="747" text-anchor="middle">15</text>
<text x="552.4" y="747" text-anchor="middle">18</text>
<text x="578" y="747">Q[m<tspan font-size="8" dy="-4">3</tspan><tspan dy="4">/h]</tspan></text>
</g>
<g font-family="'Liberation Sans', sans-serif" font-size="9.6" fill="#6e6e6e">
<text x="128.3" y="606.2"><tspan font-style="italic">η</tspan> (%)</text>
<text x="597.3" y="605.8"><tspan font-style="italic">η</tspan> (%)</text>
</g>
<g font-family="'Liberation Sans', sans-serif" font-size="9.3" fill="#1c1c1c" stroke="#1c1c1c" stroke-width="0.15">
<text x="230" y="147.8">29 - 10HP</text>
<text x="230" y="243.8">22 - 7.5HP</text>
<text x="230" y="329">16 - 5.5HP</text>
<text x="230" y="371.2">15 - 5HP</text>
<text x="230" y="427.4">09 - 3HP</text>
<text x="230" y="453">07 - 2HP</text>
<text x="230" y="479.6">05 - 1.5HP</text>
</g>
<text x="414.3" y="628" font-family="'Liberation Sans', sans-serif" font-size="12" fill="#1c1c1c">η%</text>
</svg>
<svg class="tbg" width="700" height="227" viewBox="0 760 700 227">
<polygon points="10.6,766.9 697.4,766.9 697.4,781.8 28.3,781.8" fill="#50565f"/>
<polygon points="30.5,785.6 82.8,785.6 82.8,800.6 48.3,800.6" fill="#6c727d"/>
<rect x="84.9" y="785.6" width="36.2" height="15.0" fill="#6c727d"/>
<rect x="124.2" y="785.6" width="23.9" height="15.0" fill="#6c727d"/>
<rect x="150.2" y="785.6" width="50.7" height="15.0" fill="#6c727d"/>
<rect x="202.9" y="785.6" width="30.9" height="15.0" fill="#6c727d"/>
<rect x="235.9" y="785.6" width="26.5" height="15.0" fill="#6c727d"/>
<rect x="264.5" y="785.6" width="26.2" height="15.0" fill="#6c727d"/>
<rect x="292.8" y="785.6" width="24.9" height="15.0" fill="#6c727d"/>
<rect x="319.8" y="785.6" width="24.9" height="15.0" fill="#6c727d"/>
<rect x="346.8" y="785.6" width="24.9" height="15.0" fill="#6c727d"/>
<rect x="373.9" y="785.6" width="25.2" height="15.0" fill="#6c727d"/>
<rect x="401.1" y="785.6" width="26.3" height="15.0" fill="#6c727d"/>
<rect x="429.4" y="785.6" width="25.0" height="15.0" fill="#6c727d"/>
<rect x="456.4" y="785.6" width="25.0" height="15.0" fill="#6c727d"/>
<rect x="483.4" y="785.6" width="25.7" height="15.0" fill="#6c727d"/>
<rect x="511.2" y="785.6" width="24.9" height="15.0" fill="#6c727d"/>
<rect x="538" y="785.6" width="26.2" height="15.0" fill="#6c727d"/>
<rect x="566.3" y="785.6" width="25.7" height="15.0" fill="#6c727d"/>
<rect x="594" y="785.6" width="25.0" height="15.0" fill="#6c727d"/>
<rect x="621" y="785.6" width="35.3" height="15.0" fill="#6c727d"/>
<rect x="658.3" y="785.6" width="39.1" height="15.0" fill="#6c727d"/>
<rect x="124.2" y="818.8" width="23.9" height="118.3" fill="#c5cad1"/>
<rect x="202.9" y="818.8" width="30.9" height="118.3" fill="#c5cad1"/>
<polygon points="10.6,818.8 82.8,818.8 82.8,833.4 27.2,833.4" fill="#b7bbc2"/>
<rect x="84.9" y="818.8" width="36.2" height="14.6" fill="#b7bbc2"/>
<rect x="150.2" y="818.8" width="23.7" height="14.6" fill="#b7bbc2"/>
<rect x="175.9" y="818.8" width="25.0" height="14.6" fill="#b7bbc2"/>
<rect x="235.9" y="818.8" width="26.5" height="14.6" fill="#b7bbc2"/>
<rect x="264.5" y="818.8" width="26.2" height="14.6" fill="#b7bbc2"/>
<rect x="292.8" y="818.8" width="24.9" height="14.6" fill="#b7bbc2"/>
<rect x="319.8" y="818.8" width="24.9" height="14.6" fill="#b7bbc2"/>
<rect x="346.8" y="818.8" width="24.9" height="14.6" fill="#b7bbc2"/>
<rect x="373.9" y="818.8" width="25.2" height="14.6" fill="#b7bbc2"/>
<rect x="401.1" y="818.8" width="26.3" height="14.6" fill="#b7bbc2"/>
<rect x="429.4" y="818.8" width="25.0" height="14.6" fill="#b7bbc2"/>
<rect x="456.4" y="818.8" width="25.0" height="14.6" fill="#b7bbc2"/>
<rect x="483.4" y="818.8" width="25.7" height="14.6" fill="#b7bbc2"/>
<rect x="511.2" y="818.8" width="24.9" height="14.6" fill="#b7bbc2"/>
<rect x="538" y="818.8" width="26.2" height="14.6" fill="#b7bbc2"/>
<rect x="566.3" y="818.8" width="25.7" height="14.6" fill="#b7bbc2"/>
<rect x="594" y="818.8" width="25.0" height="14.6" fill="#b7bbc2"/>
<rect x="621" y="818.8" width="35.3" height="14.6" fill="#b7bbc2"/>
<rect x="658.3" y="818.8" width="39.1" height="14.6" fill="#b7bbc2"/>
<polygon points="10.6,853.4 82.8,853.4 82.8,868.0 27.2,868.0" fill="#b7bbc2"/>
<rect x="84.9" y="853.4" width="36.2" height="14.6" fill="#b7bbc2"/>
<rect x="150.2" y="853.4" width="23.7" height="14.6" fill="#b7bbc2"/>
<rect x="175.9" y="853.4" width="25.0" height="14.6" fill="#b7bbc2"/>
<rect x="235.9" y="853.4" width="26.5" height="14.6" fill="#b7bbc2"/>
<rect x="264.5" y="853.4" width="26.2" height="14.6" fill="#b7bbc2"/>
<rect x="292.8" y="853.4" width="24.9" height="14.6" fill="#b7bbc2"/>
<rect x="319.8" y="853.4" width="24.9" height="14.6" fill="#b7bbc2"/>
<rect x="346.8" y="853.4" width="24.9" height="14.6" fill="#b7bbc2"/>
<rect x="373.9" y="853.4" width="25.2" height="14.6" fill="#b7bbc2"/>
<rect x="401.1" y="853.4" width="26.3" height="14.6" fill="#b7bbc2"/>
<rect x="429.4" y="853.4" width="25.0" height="14.6" fill="#b7bbc2"/>
<rect x="456.4" y="853.4" width="25.0" height="14.6" fill="#b7bbc2"/>
<rect x="483.4" y="853.4" width="25.7" height="14.6" fill="#b7bbc2"/>
<rect x="511.2" y="853.4" width="24.9" height="14.6" fill="#b7bbc2"/>
<rect x="538" y="853.4" width="26.2" height="14.6" fill="#b7bbc2"/>
<rect x="566.3" y="853.4" width="25.7" height="14.6" fill="#b7bbc2"/>
<rect x="594" y="853.4" width="25.0" height="14.6" fill="#b7bbc2"/>
<rect x="621" y="853.4" width="35.3" height="14.6" fill="#b7bbc2"/>
<rect x="658.3" y="853.4" width="39.1" height="14.6" fill="#b7bbc2"/>
<polygon points="10.6,887.9 82.8,887.9 82.8,902.5 27.2,902.5" fill="#b7bbc2"/>
<rect x="84.9" y="887.9" width="36.2" height="14.6" fill="#b7bbc2"/>
<rect x="150.2" y="887.9" width="23.7" height="14.6" fill="#b7bbc2"/>
<rect x="175.9" y="887.9" width="25.0" height="14.6" fill="#b7bbc2"/>
<rect x="235.9" y="887.9" width="26.5" height="14.6" fill="#b7bbc2"/>
<rect x="264.5" y="887.9" width="26.2" height="14.6" fill="#b7bbc2"/>
<rect x="292.8" y="887.9" width="24.9" height="14.6" fill="#b7bbc2"/>
<rect x="319.8" y="887.9" width="24.9" height="14.6" fill="#b7bbc2"/>
<rect x="346.8" y="887.9" width="24.9" height="14.6" fill="#b7bbc2"/>
<rect x="373.9" y="887.9" width="25.2" height="14.6" fill="#b7bbc2"/>
<rect x="401.1" y="887.9" width="26.3" height="14.6" fill="#b7bbc2"/>
<rect x="429.4" y="887.9" width="25.0" height="14.6" fill="#b7bbc2"/>
<rect x="456.4" y="887.9" width="25.0" height="14.6" fill="#b7bbc2"/>
<rect x="483.4" y="887.9" width="25.7" height="14.6" fill="#b7bbc2"/>
<rect x="511.2" y="887.9" width="24.9" height="14.6" fill="#b7bbc2"/>
<rect x="538" y="887.9" width="26.2" height="14.6" fill="#b7bbc2"/>
<rect x="566.3" y="887.9" width="25.7" height="14.6" fill="#b7bbc2"/>
<rect x="594" y="887.9" width="25.0" height="14.6" fill="#b7bbc2"/>
<rect x="621" y="887.9" width="35.3" height="14.6" fill="#b7bbc2"/>
<rect x="658.3" y="887.9" width="39.1" height="14.6" fill="#b7bbc2"/>
<polygon points="10.6,922.5 82.8,922.5 82.8,937.1 27.2,937.1" fill="#b7bbc2"/>
<rect x="84.9" y="922.5" width="36.2" height="14.6" fill="#b7bbc2"/>
<rect x="150.2" y="922.5" width="23.7" height="14.6" fill="#b7bbc2"/>
<rect x="175.9" y="922.5" width="25.0" height="14.6" fill="#b7bbc2"/>
<rect x="235.9" y="922.5" width="26.5" height="14.6" fill="#b7bbc2"/>
<rect x="264.5" y="922.5" width="26.2" height="14.6" fill="#b7bbc2"/>
<rect x="292.8" y="922.5" width="24.9" height="14.6" fill="#b7bbc2"/>
<rect x="319.8" y="922.5" width="24.9" height="14.6" fill="#b7bbc2"/>
<rect x="346.8" y="922.5" width="24.9" height="14.6" fill="#b7bbc2"/>
<rect x="373.9" y="922.5" width="25.2" height="14.6" fill="#b7bbc2"/>
<rect x="401.1" y="922.5" width="26.3" height="14.6" fill="#b7bbc2"/>
<rect x="429.4" y="922.5" width="25.0" height="14.6" fill="#b7bbc2"/>
<rect x="456.4" y="922.5" width="25.0" height="14.6" fill="#b7bbc2"/>
<rect x="483.4" y="922.5" width="25.7" height="14.6" fill="#b7bbc2"/>
<rect x="511.2" y="922.5" width="24.9" height="14.6" fill="#b7bbc2"/>
<rect x="538" y="922.5" width="26.2" height="14.6" fill="#b7bbc2"/>
<rect x="566.3" y="922.5" width="25.7" height="14.6" fill="#b7bbc2"/>
<rect x="594" y="922.5" width="25.0" height="14.6" fill="#b7bbc2"/>
<rect x="621" y="922.5" width="35.3" height="14.6" fill="#b7bbc2"/>
<rect x="658.3" y="922.5" width="39.1" height="14.6" fill="#b7bbc2"/>
<line x1="8.6" y1="940.2" x2="697.4" y2="940.2" stroke="#d5d7da" stroke-width="1"/>
</svg>
<div class="title">55DS Selection Chart</div>
<div class="c h ht" style="left:46.6px;width:32px;top:785.1px">Type</div>
<div class="c h hst" style="left:84.9px;width:36.2px;top:786.0px;">Stage</div>
<div class="c h hb" style="left:150.2px;width:50.7px;top:785.4px;">Motor</div>
<div class="c h hs" style="left:202.9px;width:30.9px;top:786.4px;">L/MIN</div>
<div class="c h" style="left:235.9px;width:26.5px;top:786.3px;">0</div>
<div class="c h" style="left:264.5px;width:26.2px;top:786.3px;">80</div>
<div class="c h" style="left:292.8px;width:24.9px;top:786.3px;">90</div>
<div class="c h" style="left:319.8px;width:24.9px;top:786.3px;">100</div>
<div class="c h" style="left:346.8px;width:24.9px;top:786.3px;">120</div>
<div class="c h" style="left:373.9px;width:25.2px;top:786.3px;">140</div>
<div class="c h" style="left:401.1px;width:26.3px;top:786.3px;">160</div>
<div class="c h" style="left:429.4px;width:25.0px;top:786.3px;">180</div>
<div class="c h" style="left:456.4px;width:25.0px;top:786.3px;">200</div>
<div class="c h" style="left:483.4px;width:25.7px;top:786.3px;">220</div>
<div class="c h" style="left:511.2px;width:24.9px;top:786.3px;">240</div>
<div class="c h" style="left:538.0px;width:26.2px;top:786.3px;">260</div>
<div class="c h" style="left:566.3px;width:25.7px;top:786.3px;">280</div>
<div class="c h" style="left:594.0px;width:25.0px;top:786.3px;">300</div>
<div class="c h hs" style="left:621.0px;width:35.3px;top:786.5px;">Length</div>
<div class="c h hw" style="left:658.3px;width:39.1px;top:786.5px;">Weight</div>
<div class="c d" style="left:232.9px;width:32.5px;top:804.0px;">0</div>
<div class="c d" style="left:261.5px;width:32.2px;top:804.0px;">4.8</div>
<div class="c d" style="left:289.8px;width:30.9px;top:804.0px;">5.4</div>
<div class="c d" style="left:316.8px;width:30.9px;top:804.0px;">6.0</div>
<div class="c d" style="left:343.8px;width:30.9px;top:804.0px;">7.2</div>
<div class="c d" style="left:370.9px;width:31.2px;top:804.0px;">8.4</div>
<div class="c d" style="left:398.1px;width:32.3px;top:804.0px;">9.6</div>
<div class="c d" style="left:426.4px;width:31.0px;top:804.0px;">10.8</div>
<div class="c d" style="left:453.4px;width:31.0px;top:804.0px;">12</div>
<div class="c d" style="left:480.4px;width:31.7px;top:804.0px;">13.2</div>
<div class="c d" style="left:508.2px;width:30.9px;top:804.0px;">14.4</div>
<div class="c d" style="left:535.0px;width:32.2px;top:804.0px;">15.6</div>
<div class="c d" style="left:563.3px;width:31.7px;top:804.0px;">16.8</div>
<div class="c d" style="left:591.0px;width:31.0px;top:804.0px;">18</div>
<div class="c d" style="left:618.0px;width:41.3px;top:804.0px;">mm</div>
<div class="c d" style="left:655.3px;width:45.1px;top:804.0px;">kg</div>
<div class="c d sm" style="left:150.2px;width:23.7px;top:805.8px;">HP</div>
<div class="c d sm" style="left:177.5px;width:23.4px;top:805.8px;">KW</div>
<div class="c d sm2" style="left:201.9px;width:30.9px;top:800.6px;">M<span class="sup">3</span>/H</div>
<div class="bar"></div>
<div class="c d sh" style="left:31.5px;top:820.7px;text-align:left;width:60px;font-size:11.9px">55DS15</div>
<div class="c d sh" style="left:84.9px;width:36.2px;top:821.1px;">5</div>
<div class="c d m sh" style="left:150.2px;width:23.7px;top:820.1px;">1.5</div>
<div class="c d m sh" style="left:175.9px;width:25.0px;top:820.1px;">1.10</div>
<div class="c d sh" style="left:232.9px;width:32.5px;top:821.1px;">42</div>
<div class="c d sh" style="left:261.5px;width:32.2px;top:821.1px;">38</div>
<div class="c d sh" style="left:289.8px;width:30.9px;top:821.1px;">37</div>
<div class="c d sh" style="left:316.8px;width:30.9px;top:821.1px;">36</div>
<div class="c d sh" style="left:343.8px;width:30.9px;top:821.1px;">34</div>
<div class="c d sh" style="left:370.9px;width:31.2px;top:821.1px;">32</div>
<div class="c d sh" style="left:398.1px;width:32.3px;top:821.1px;">30</div>
<div class="c d sh" style="left:426.4px;width:31.0px;top:821.1px;">28</div>
<div class="c d sh" style="left:453.4px;width:31.0px;top:821.1px;">25</div>
<div class="c d sh" style="left:480.4px;width:31.7px;top:821.1px;">22</div>
<div class="c d sh" style="left:508.2px;width:30.9px;top:821.1px;">18</div>
<div class="c d sh" style="left:535.0px;width:32.2px;top:821.1px;">14</div>
<div class="c d sh" style="left:563.3px;width:31.7px;top:821.1px;">9</div>
<div class="c d sh" style="left:591.0px;width:31.0px;top:821.1px;">5</div>
<div class="c d sh" style="left:621.0px;width:35.3px;top:821.1px;">433</div>
<div class="c d sh" style="left:658.3px;width:39.1px;top:821.1px;">4.3</div>
<div class="c d " style="left:31.5px;top:838.0px;text-align:left;width:60px;font-size:11.9px">55DS20</div>
<div class="c d " style="left:84.9px;width:36.2px;top:838.4px;">7</div>
<div class="c d m " style="left:150.2px;width:23.7px;top:837.4px;">2.0</div>
<div class="c d m " style="left:175.9px;width:25.0px;top:837.4px;">1.5</div>
<div class="c d " style="left:232.9px;width:32.5px;top:838.4px;">59</div>
<div class="c d " style="left:261.5px;width:32.2px;top:838.4px;">52</div>
<div class="c d " style="left:289.8px;width:30.9px;top:838.4px;">51</div>
<div class="c d " style="left:316.8px;width:30.9px;top:838.4px;">50</div>
<div class="c d " style="left:343.8px;width:30.9px;top:838.4px;">48</div>
<div class="c d " style="left:370.9px;width:31.2px;top:838.4px;">46</div>
<div class="c d " style="left:398.1px;width:32.3px;top:838.4px;">43</div>
<div class="c d " style="left:426.4px;width:31.0px;top:838.4px;">40</div>
<div class="c d " style="left:453.4px;width:31.0px;top:838.4px;">36</div>
<div class="c d " style="left:480.4px;width:31.7px;top:838.4px;">31</div>
<div class="c d " style="left:508.2px;width:30.9px;top:838.4px;">26</div>
<div class="c d " style="left:535.0px;width:32.2px;top:838.4px;">21</div>
<div class="c d " style="left:563.3px;width:31.7px;top:838.4px;">15</div>
<div class="c d " style="left:591.0px;width:31.0px;top:838.4px;">8</div>
<div class="c d " style="left:621.0px;width:35.3px;top:838.4px;">537</div>
<div class="c d " style="left:658.3px;width:39.1px;top:838.4px;">5.3</div>
<div class="c d sh" style="left:31.5px;top:855.3px;text-align:left;width:60px;font-size:11.9px">55DS30</div>
<div class="c d sh" style="left:84.9px;width:36.2px;top:855.7px;">9</div>
<div class="c d m sh" style="left:150.2px;width:23.7px;top:854.7px;">3.0</div>
<div class="c d m sh" style="left:175.9px;width:25.0px;top:854.7px;">2.2</div>
<div class="c d sh" style="left:232.9px;width:32.5px;top:855.7px;">76</div>
<div class="c d sh" style="left:261.5px;width:32.2px;top:855.7px;">67</div>
<div class="c d sh" style="left:289.8px;width:30.9px;top:855.7px;">66</div>
<div class="c d sh" style="left:316.8px;width:30.9px;top:855.7px;">64</div>
<div class="c d sh" style="left:343.8px;width:30.9px;top:855.7px;">62</div>
<div class="c d sh" style="left:370.9px;width:31.2px;top:855.7px;">59</div>
<div class="c d sh" style="left:398.1px;width:32.3px;top:855.7px;">56</div>
<div class="c d sh" style="left:426.4px;width:31.0px;top:855.7px;">52</div>
<div class="c d sh" style="left:453.4px;width:31.0px;top:855.7px;">47</div>
<div class="c d sh" style="left:480.4px;width:31.7px;top:855.7px;">42</div>
<div class="c d sh" style="left:508.2px;width:30.9px;top:855.7px;">35</div>
<div class="c d sh" style="left:535.0px;width:32.2px;top:855.7px;">28</div>
<div class="c d sh" style="left:563.3px;width:31.7px;top:855.7px;">19</div>
<div class="c d sh" style="left:591.0px;width:31.0px;top:855.7px;">11</div>
<div class="c d sh" style="left:621.0px;width:35.3px;top:855.7px;">641</div>
<div class="c d sh" style="left:658.3px;width:39.1px;top:855.7px;">6.2</div>
<div class="c d " style="left:31.5px;top:872.5px;text-align:left;width:60px;font-size:11.9px">55DS50</div>
<div class="c d " style="left:84.9px;width:36.2px;top:872.9px;">15</div>
<div class="c d m " style="left:150.2px;width:23.7px;top:871.9px;">5.0</div>
<div class="c d m " style="left:175.9px;width:25.0px;top:871.9px;">3.7</div>
<div class="c d " style="left:232.9px;width:32.5px;top:872.9px;">128</div>
<div class="c d " style="left:261.5px;width:32.2px;top:872.9px;">113</div>
<div class="c d " style="left:289.8px;width:30.9px;top:872.9px;">112</div>
<div class="c d " style="left:316.8px;width:30.9px;top:872.9px;">109</div>
<div class="c d " style="left:343.8px;width:30.9px;top:872.9px;">105</div>
<div class="c d " style="left:370.9px;width:31.2px;top:872.9px;">100</div>
<div class="c d " style="left:398.1px;width:32.3px;top:872.9px;">94</div>
<div class="c d " style="left:426.4px;width:31.0px;top:872.9px;">88</div>
<div class="c d " style="left:453.4px;width:31.0px;top:872.9px;">80</div>
<div class="c d " style="left:480.4px;width:31.7px;top:872.9px;">72</div>
<div class="c d " style="left:508.2px;width:30.9px;top:872.9px;">63</div>
<div class="c d " style="left:535.0px;width:32.2px;top:872.9px;">51</div>
<div class="c d " style="left:563.3px;width:31.7px;top:872.9px;">37</div>
<div class="c d " style="left:591.0px;width:31.0px;top:872.9px;">20</div>
<div class="c d " style="left:621.0px;width:35.3px;top:872.9px;">953</div>
<div class="c d " style="left:658.3px;width:39.1px;top:872.9px;">9.0</div>
<div class="c d sh" style="left:31.5px;top:889.8px;text-align:left;width:60px;font-size:11.9px">55DS55</div>
<div class="c d sh" style="left:84.9px;width:36.2px;top:890.2px;">16</div>
<div class="c d m sh" style="left:150.2px;width:23.7px;top:889.2px;">5.5</div>
<div class="c d m sh" style="left:175.9px;width:25.0px;top:889.2px;">4.0</div>
<div class="c d sh" style="left:232.9px;width:32.5px;top:890.2px;">137</div>
<div class="c d sh" style="left:261.5px;width:32.2px;top:890.2px;">122</div>
<div class="c d sh" style="left:289.8px;width:30.9px;top:890.2px;">120</div>
<div class="c d sh" style="left:316.8px;width:30.9px;top:890.2px;">117</div>
<div class="c d sh" style="left:343.8px;width:30.9px;top:890.2px;">112</div>
<div class="c d sh" style="left:370.9px;width:31.2px;top:890.2px;">107</div>
<div class="c d sh" style="left:398.1px;width:32.3px;top:890.2px;">101</div>
<div class="c d sh" style="left:426.4px;width:31.0px;top:890.2px;">95</div>
<div class="c d sh" style="left:453.4px;width:31.0px;top:890.2px;">88</div>
<div class="c d sh" style="left:480.4px;width:31.7px;top:890.2px;">79</div>
<div class="c d sh" style="left:508.2px;width:30.9px;top:890.2px;">68</div>
<div class="c d sh" style="left:535.0px;width:32.2px;top:890.2px;">55</div>
<div class="c d sh" style="left:563.3px;width:31.7px;top:890.2px;">40</div>
<div class="c d sh" style="left:591.0px;width:31.0px;top:890.2px;">23</div>
<div class="c d sh" style="left:621.0px;width:35.3px;top:890.2px;">1005</div>
<div class="c d sh" style="left:658.3px;width:39.1px;top:890.2px;">9.5</div>
<div class="c d " style="left:31.5px;top:907.1px;text-align:left;width:60px;font-size:11.9px">55DS75</div>
<div class="c d " style="left:84.9px;width:36.2px;top:907.5px;">22</div>
<div class="c d m " style="left:150.2px;width:23.7px;top:906.5px;">7.5</div>
<div class="c d m " style="left:175.9px;width:25.0px;top:906.5px;">5.5</div>
<div class="c d " style="left:232.9px;width:32.5px;top:907.5px;">191</div>
<div class="c d " style="left:261.5px;width:32.2px;top:907.5px;">169</div>
<div class="c d " style="left:289.8px;width:30.9px;top:907.5px;">166</div>
<div class="c d " style="left:316.8px;width:30.9px;top:907.5px;">162</div>
<div class="c d " style="left:343.8px;width:30.9px;top:907.5px;">156</div>
<div class="c d " style="left:370.9px;width:31.2px;top:907.5px;">149</div>
<div class="c d " style="left:398.1px;width:32.3px;top:907.5px;">140</div>
<div class="c d " style="left:426.4px;width:31.0px;top:907.5px;">131</div>
<div class="c d " style="left:453.4px;width:31.0px;top:907.5px;">118</div>
<div class="c d " style="left:480.4px;width:31.7px;top:907.5px;">106</div>
<div class="c d " style="left:508.2px;width:30.9px;top:907.5px;">91</div>
<div class="c d " style="left:535.0px;width:32.2px;top:907.5px;">75</div>
<div class="c d " style="left:563.3px;width:31.7px;top:907.5px;">55</div>
<div class="c d " style="left:591.0px;width:31.0px;top:907.5px;">35</div>
<div class="c d " style="left:621.0px;width:35.3px;top:907.5px;">1345</div>
<div class="c d " style="left:658.3px;width:39.1px;top:907.5px;">12.3</div>
<div class="c d sh" style="left:31.5px;top:924.4px;text-align:left;width:60px;font-size:11.9px">55DS100</div>
<div class="c d sh" style="left:84.9px;width:36.2px;top:924.8px;">29</div>
<div class="c d m sh" style="left:150.2px;width:23.7px;top:923.8px;">10</div>
<div class="c d m sh" style="left:175.9px;width:25.0px;top:923.8px;">7.5</div>
<div class="c d sh" style="left:232.9px;width:32.5px;top:924.8px;">251</div>
<div class="c d sh" style="left:261.5px;width:32.2px;top:924.8px;">225</div>
<div class="c d sh" style="left:289.8px;width:30.9px;top:924.8px;">221</div>
<div class="c d sh" style="left:316.8px;width:30.9px;top:924.8px;">218</div>
<div class="c d sh" style="left:343.8px;width:30.9px;top:924.8px;">209</div>
<div class="c d sh" style="left:370.9px;width:31.2px;top:924.8px;">200</div>
<div class="c d sh" style="left:398.1px;width:32.3px;top:924.8px;">190</div>
<div class="c d sh" style="left:426.4px;width:31.0px;top:924.8px;">177</div>
<div class="c d sh" style="left:453.4px;width:31.0px;top:924.8px;">161</div>
<div class="c d sh" style="left:480.4px;width:31.7px;top:924.8px;">144</div>
<div class="c d sh" style="left:508.2px;width:30.9px;top:924.8px;">125</div>
<div class="c d sh" style="left:535.0px;width:32.2px;top:924.8px;">101</div>
<div class="c d sh" style="left:563.3px;width:31.7px;top:924.8px;">75</div>
<div class="c d sh" style="left:591.0px;width:31.0px;top:924.8px;">48</div>
<div class="c d sh" style="left:621.0px;width:35.3px;top:924.8px;">1708</div>
<div class="c d sh" style="left:658.3px;width:39.1px;top:924.8px;">15.6</div>
<div class="vert v1">Discharge : 2"</div>
<div class="vert v2">H:TOTAL HEAD</div>
<div class="vert v3">IN METERS</div>
</body></html>
